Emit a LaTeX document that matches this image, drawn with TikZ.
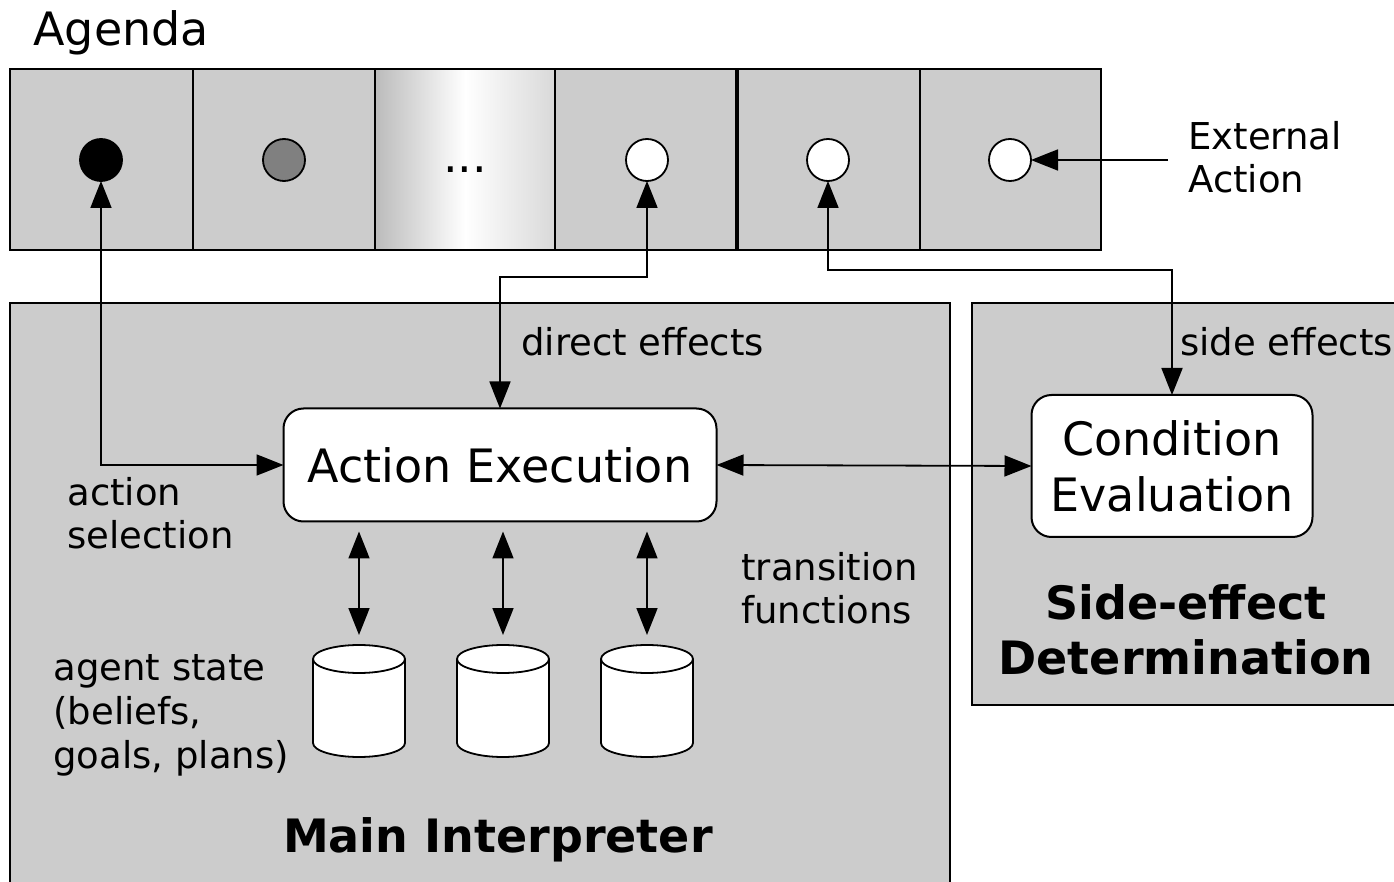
\documentclass[tikz,border=0pt]{standalone}
\usepackage{fontspec}
\setmainfont{DejaVu Sans}
\usetikzlibrary{arrows.meta}
\definecolor{panel}{HTML}{CCCCCC}
\definecolor{gradedge}{HTML}{BBBBBB}
\definecolor{dotgray}{HTML}{808080}
\begin{document}
\begin{tikzpicture}[x=0.5pt,y=-0.5pt,
  panelbox/.style={draw=black, fill=panel, line width=1pt},
  cellbox/.style={draw=black, line width=1pt},
  slot/.style={circle, draw=black, line width=0.9pt, minimum size=21pt, inner sep=0pt, outer sep=0pt},
  procbox/.style={draw=black, fill=white, line width=1pt, rounded corners=10pt, inner sep=0pt, outer sep=0pt, align=center, font=\fontsize{23}{28}\selectfont},
  storeslot/.style={minimum width=46pt, minimum height=56pt, inner sep=0pt, outer sep=0pt},
  storeline/.style={draw=black, fill=white, line width=0.9pt},
  conn/.style={line width=0.9pt, {Triangle[length=13.5pt,width=10.5pt]}-{Triangle[length=13.5pt,width=10.5pt]}},
  oneway/.style={line width=0.9pt, -{Triangle[length=13.5pt,width=10.5pt]}},
  small/.style={inner sep=0pt, align=left, font=\fontsize{18.5}{21.7}\selectfont},
  big/.style={inner sep=0pt, align=center, font=\fontsize{23}{27.6}\selectfont},
  bigbold/.style={inner sep=0pt, align=center, font=\fontsize{23}{27.6}\selectfont\bfseries}
]
\useasboundingbox (0,0) rectangle (1394,882);
% agenda
\node[big, anchor=base west] (agenda) at (33,46) {Agenda};
\fill[panel] (10,69) rectangle (375,250);
\shade[left color=gradedge, right color=panel!75!white, middle color=white] (375,69) rectangle (555,250);
\fill[panel] (555,69) rectangle (1101,250);
\draw[cellbox] (10,69) rectangle (1101,250);
\foreach \x in {193,375,555,920} \draw[cellbox] (\x,69) -- (\x,250);
\draw[line width=1.6pt] (737,69) -- (737,250);
\node[slot, fill=black] (c1) at (101,160) {};
\node[slot, fill=dotgray] (c2) at (284,160) {};
\node[inner sep=0pt, anchor=base, font=\fontsize{23}{28}\selectfont] (dots) at (465,173) {...};
\node[slot, fill=white] (c4) at (647,160) {};
\node[slot, fill=white] (c5) at (828,160) {};
\node[slot, fill=white] (c6) at (1010,160) {};
\node[small, anchor=west] (ext) at (1188,157) {External\\Action};
\coordinate (extstart) at (1168,160);
\draw[oneway] (extstart) -- (c6.east);
% panels
\draw[panelbox] (10,303) rectangle (950,900);
\draw[panelbox] (972,303) rectangle (1410,705);
\node[procbox, minimum width=216.5pt, minimum height=56.5pt] (ae) at (500,465) {Action Execution};
\node[procbox, minimum width=140.5pt, minimum height=71pt] (ce) at (1172,466) {Condition\\Evaluation};
% stores (cylinders)
\node[storeslot] (s1) at (359,701) {};
\node[storeslot] (s2) at (503,701) {};
\node[storeslot] (s3) at (647,701) {};
\foreach \s in {s1,s2,s3}{
  \path[storeline] ([yshift=-7pt]\s.north west) -- ([yshift=7pt]\s.south west)
    arc[start angle=180, end angle=360, x radius=23pt, y radius=7pt]
    -- ([yshift=-7pt]\s.north east)
    arc[start angle=0, end angle=180, x radius=23pt, y radius=7pt] -- cycle;
  \draw[storeline, fill=none] ([yshift=-7pt]\s.north west)
    arc[start angle=180, end angle=360, x radius=23pt, y radius=7pt];
}
% connectors
\draw[conn] (c1.south) |- (ae.west);
\draw[conn] (c4.south) -- (647,277) -| (ae.north);
\draw[conn] (c5.south) -- (828,270) -| (ce.north);
\draw[conn] (ae.east) -- (ce.west);
\foreach \s in {s1,s2,s3} \draw[conn, shorten <=5pt, shorten >=5pt] (ae.south -| \s.north) -- (\s.north);
% labels
\node[small, anchor=base west] (lde) at (521,356) {direct effects};
\node[small, anchor=base west] (lse) at (1180,356) {side effects};
\node[small, anchor=west] (las) at (67,513) {action\\selection};
\node[small, anchor=west] (ltf) at (741,588) {transition\\functions};
\node[small, anchor=west, font=\fontsize{18.5}{22}\selectfont] (lag) at (53,715) {agent state\\(beliefs,\\goals, plans)};
\node[bigbold] (lsd) at (1186,630) {Side-effect\\Determination};
\node[bigbold] (lmi) at (498,840) {Main Interpreter};
\end{tikzpicture}
\end{document}
